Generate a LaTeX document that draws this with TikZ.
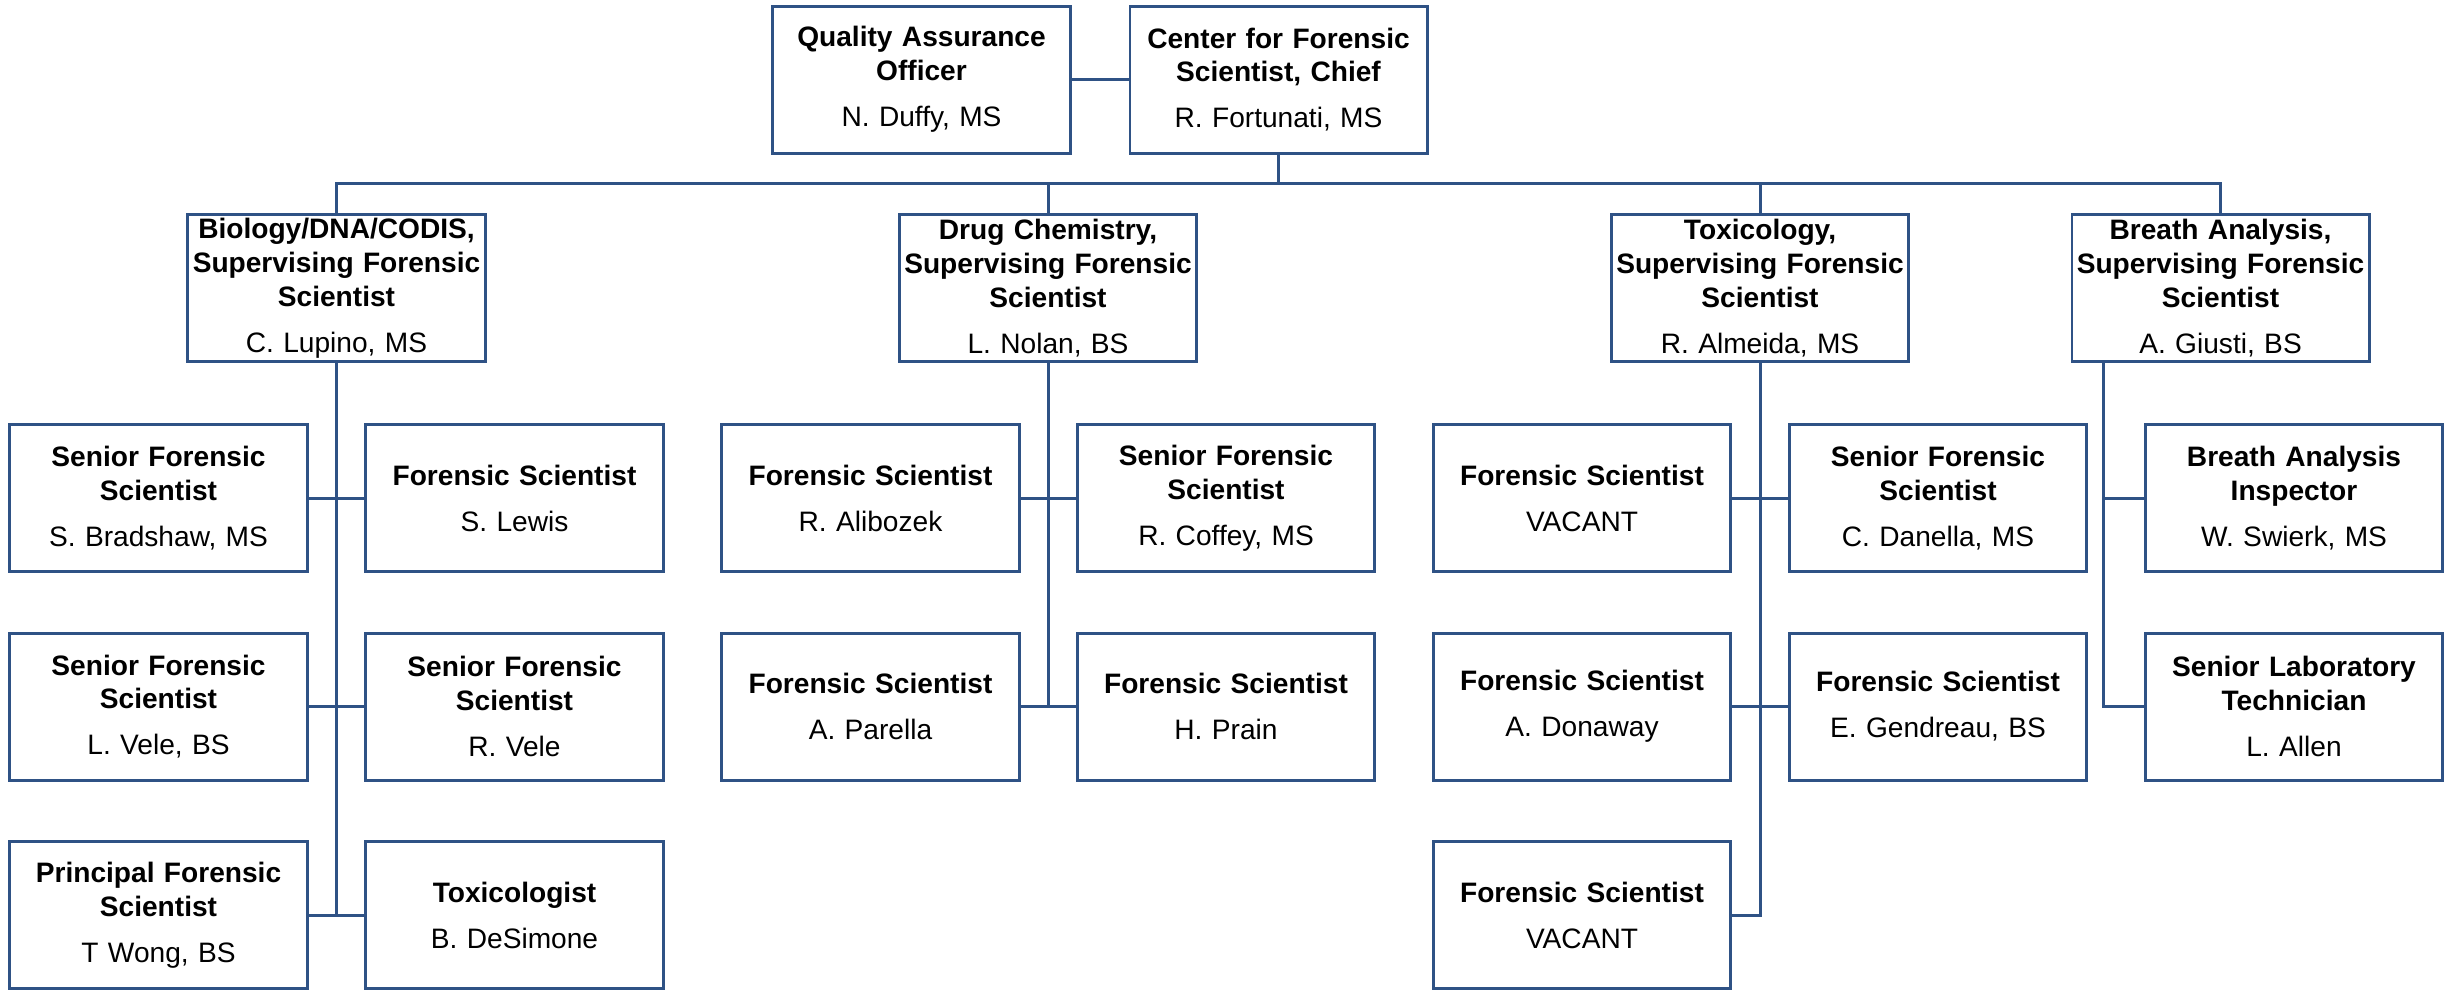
\documentclass[tikz,border=0pt]{standalone}
\usepackage{fontspec}
\setmainfont{Liberation Sans}
\definecolor{orgblue}{RGB}{47,82,133}
\newcommand{\orgcard}[2]{{\bfseries #1}\\[3.5pt]#2}
\newcommand{\orgfont}{\fontsize{8pt}{9.6pt}\selectfont}
\tikzset{
  orgbox/.style={draw=orgblue, line width=0.85pt, text width=2.9cm, align=center,
    minimum width=2.94cm, minimum height=1.47cm, inner sep=1pt,
    font=\orgfont},
  link/.style={draw=orgblue, line width=0.85pt}
}
\begin{document}
\begin{tikzpicture}[every node/.style={orgbox}]
    \useasboundingbox (0,0) rectangle (24.5,-9.89);

    % Top level
    \node (qa) at (9.215,-0.795) {\orgcard{Quality Assurance\\Officer}{N. Duffy, MS}};
    \node (chief) at (12.785,-0.795) {\orgcard{Center for Forensic\\Scientist, Chief}{R. Fortunati, MS}};

    % Supervisors
    \node (bio) at (3.365,-2.88) {\orgcard{Biology/DNA/CODIS,\\Supervising Forensic\\Scientist}{C. Lupino, MS}};
    \node (drug) at (10.48,-2.88) {\orgcard{Drug Chemistry,\\Supervising Forensic\\Scientist}{L. Nolan, BS}};
    \node (tox) at (17.60,-2.88) {\orgcard{Toxicology,\\Supervising Forensic\\Scientist}{R. Almeida, MS}};
    \node (breath) at (22.205,-2.88) {\orgcard{Breath Analysis,\\Supervising Forensic\\Scientist}{A. Giusti, BS}};

    % Biology staff
    \node (bioL1) at (1.585,-4.98) {\orgcard{Senior Forensic\\Scientist}{S. Bradshaw, MS}};
    \node (bioR1) at (5.145,-4.98) {\orgcard{Forensic Scientist}{S. Lewis}};
    \node (bioL2) at (1.585,-7.065) {\orgcard{Senior Forensic\\Scientist}{L. Vele, BS}};
    \node (bioR2) at (5.145,-7.065) {\orgcard{Senior Forensic\\Scientist}{R. Vele}};
    \node (bioL3) at (1.585,-9.15) {\orgcard{Principal Forensic\\Scientist}{T Wong, BS}};
    \node (bioR3) at (5.145,-9.15) {\orgcard{Toxicologist}{B. DeSimone}};

    % Drug chemistry staff
    \node (drugL1) at (8.705,-4.98) {\orgcard{Forensic Scientist}{R. Alibozek}};
    \node (drugR1) at (12.26,-4.98) {\orgcard{Senior Forensic\\Scientist}{R. Coffey, MS}};
    \node (drugL2) at (8.705,-7.065) {\orgcard{Forensic Scientist}{A. Parella}};
    \node (drugR2) at (12.26,-7.065) {\orgcard{Forensic Scientist}{H. Prain}};

    % Toxicology staff
    \node (toxL1) at (15.82,-4.98) {\orgcard{Forensic Scientist}{VACANT}};
    \node (toxR1) at (19.38,-4.98) {\orgcard{Senior Forensic\\Scientist}{C. Danella, MS}};
    \node (toxL2) at (15.82,-7.065) {\orgcard{Forensic Scientist}{A. Donaway}};
    \node (toxR2) at (19.38,-7.065) {\orgcard{Forensic Scientist}{E. Gendreau, BS}};
    \node (toxL3) at (15.82,-9.15) {\orgcard{Forensic Scientist}{VACANT}};

    % Breath analysis staff
    \node (breath1) at (22.94,-4.98) {\orgcard{Breath Analysis\\Inspector}{W. Swierk, MS}};
    \node (breath2) at (22.94,-7.065) {\orgcard{Senior Laboratory\\Technician}{L. Allen}};

    % Connectors at the top
    \coordinate (bus) at (12.785,-1.83);
    \coordinate (breathtap) at (21.035,-3.62);
    \draw[link] (qa.east) -- (chief.west);
    \draw[link] (chief.south) -- (bus);
    \draw[link] (bio.north) -- (bio.north |- bus) -- (breath.north |- bus) -- (breath.north);
    \draw[link] (drug.north) -- (drug.north |- bus);
    \draw[link] (tox.north) -- (tox.north |- bus);

    % Connectors in each unit
    \draw[link] (bio.south) -- (bio.south |- bioL3.east);
    \foreach \r in {1,2,3} {
      \draw[link] (bioL\r.east) -- (bioR\r.west);
    }
    \draw[link] (drug.south) -- (drug.south |- drugL2.east);
    \foreach \r in {1,2} {
      \draw[link] (drugL\r.east) -- (drugR\r.west);
      \draw[link] (toxL\r.east) -- (toxR\r.west);
    }
    \draw[link] (tox.south) -- (tox.south |- toxL3.east) -- (toxL3.east);
    \draw[link] (breathtap) -- (breathtap |- breath2.west) -- (breath2.west);
    \draw[link] (breathtap |- breath1.west) -- (breath1.west);

    \end{tikzpicture}
\end{document}
